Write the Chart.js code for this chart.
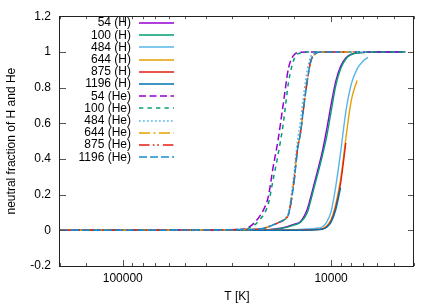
<!DOCTYPE html>
<html>
<head>
<meta charset="utf-8">
<title>neutral fraction</title>
<script src="https://cdn.jsdelivr.net/npm/chart.js@4"></script>
<style>
  html, body { margin: 0; padding: 0; background: #fff; }
  #wrap { width: 436px; height: 305px; }
</style>
</head>
<body>
<div id="wrap"><canvas id="chart" width="436" height="305"></canvas></div>
<script>
// temperature grids [K], hottest first (the axis runs hot -> cold)
const hEarlyT = [200000, 25000, 20000, 17000, 15000, 14000, 13000, 12500, 12000, 11500, 11000, 10500, 10000, 9500, 9000, 8500, 8000, 7000, 6000, 4400];
const hLateT = [200000, 20000, 15000, 13000, 12000, 11000, 10500, 10000, 9500, 9000, 8500, 8000, 7500, 7000, 6650];
const heEarlyT = [200000, 30000, 27000, 25000, 23000, 22000, 21000, 20000, 19000, 18000, 17000, 16000, 15000, 14000, 13000, 4400];
const heLateT = [200000, 24000, 21000, 19000, 18000, 17000, 16500, 16000, 15500, 15000, 14500, 14000, 13500, 13000, 12500, 12000, 11500, 11000, 10000, 9000, 8500, 7500, 6650];

// neutral hydrogen fraction
const h54 = [0, 0, 0.004, 0.015, 0.035, 0.05, 0.12, 0.19, 0.27, 0.353, 0.445, 0.565, 0.705, 0.835, 0.92, 0.966, 0.987, 0.997, 1, 1];
const h100 = [0, 0, 0.003, 0.012, 0.03, 0.045, 0.1, 0.17, 0.25, 0.33, 0.42, 0.525, 0.665, 0.81, 0.905, 0.96, 0.985, 0.996, 1, 1];
const h484 = [0, 0, 0.003, 0.007, 0.01, 0.02, 0.046, 0.105, 0.245, 0.437, 0.663, 0.819, 0.905, 0.95, 0.969];
const h644 = [0, 0, 0, 0.002, 0.004, 0.01, 0.025, 0.06, 0.145, 0.287, 0.513, 0.728, 0.84];
const h875 = [0, 0, 0, 0.002, 0.004, 0.008, 0.02, 0.052, 0.13, 0.265, 0.49];
const h1196 = [0, 0, 0, 0.001, 0.003, 0.006, 0.017, 0.045, 0.115, 0.24];

// neutral helium fraction
const he54 = [0, 0, 0.005, 0.015, 0.05, 0.08, 0.12, 0.19, 0.35, 0.5, 0.7, 0.91, 0.985, 0.998, 1, 1];
const he100 = [0, 0, 0.003, 0.01, 0.035, 0.06, 0.09, 0.15, 0.28, 0.42, 0.59, 0.83, 0.965, 0.995, 1, 1];
const he484 = [0, 0.005, 0.012, 0.03, 0.042, 0.055, 0.07, 0.1, 0.2, 0.34, 0.5, 0.62, 0.77, 0.9, 0.975, 0.995, 1, 1, 1, 1, 1, 1, 1];
const he644 = [0, 0.005, 0.012, 0.03, 0.042, 0.055, 0.066, 0.09, 0.175, 0.3, 0.455, 0.555, 0.705, 0.845, 0.95, 0.985, 0.998, 1, 1, 1, 1, 1];
const he875 = [0, 0.005, 0.012, 0.03, 0.042, 0.055, 0.065, 0.09, 0.17, 0.29, 0.45, 0.55, 0.7, 0.84, 0.95, 0.985, 0.998, 1, 1, 1, 1];
const he1196 = [0, 0.005, 0.012, 0.03, 0.042, 0.055, 0.065, 0.09, 0.17, 0.29, 0.45, 0.55, 0.7, 0.84, 0.95, 0.985, 0.998, 1, 1, 1];

const xDecades = [10000, 100000];

// pair a temperature grid with a value list (list may stop early)
function pts(tGrid, vals) {
    return vals.map((v, i) => ({ x: tGrid[i], y: v }));
}

const series = [
    { label: "54 (H)", t: hEarlyT, v: h54, color: "#9400d3", dash: [] },
    { label: "100 (H)", t: hEarlyT, v: h100, color: "#009e73", dash: [] },
    { label: "484 (H)", t: hLateT, v: h484, color: "#56b4e9", dash: [] },
    { label: "644 (H)", t: hLateT, v: h644, color: "#e69f00", dash: [] },
    { label: "875 (H)", t: hLateT, v: h875, color: "#e51e10", dash: [] },
    { label: "1196 (H)", t: hLateT, v: h1196, color: "#0072b2", dash: [] },
    { label: "54 (He)", t: heEarlyT, v: he54, color: "#9400d3", dash: [7, 3.5] },
    { label: "100 (He)", t: heEarlyT, v: he100, color: "#009e73", dash: [4.3, 4.2] },
    { label: "484 (He)", t: heLateT, v: he484, color: "#56b4e9", dash: [1.7, 2.3] },
    { label: "644 (He)", t: heLateT, v: he644, color: "#e69f00", dash: [11, 3.5, 2, 3.5] },
    { label: "875 (He)", t: heLateT, v: he875, color: "#e51e10", dash: [10.5, 3.3, 1.7, 2.7, 1.7, 4] },
    { label: "1196 (He)", t: heLateT, v: he1196, color: "#1a8ad0", dash: [8, 3] }
];

const datasets = series.map((s, i) => ({
    label: s.label,
    data: pts(s.t, s.v),
    borderColor: s.color,
    borderDash: s.dash,
    borderWidth: s.dash.length ? 1.5 : 1.4,
    pointRadius: 0,
    fill: false,
    cubicInterpolationMode: "monotone",
    order: -i
}));

// gnuplot-like frame with inward ticks, plus a key in the upper left
const framePlugin = {
    id: "frame",
    afterDatasetsDraw(chart) {
        const { ctx, chartArea: a, scales: { x, y } } = chart;
        ctx.save();
        ctx.lineWidth = 1;
        ctx.strokeStyle = "#555";
        ctx.beginPath();
        x.ticks.forEach(t => {
            const px = Math.round(x.getPixelForValue(t.value)) + 0.5;
            const len = xDecades.some(d => Math.abs(d - t.value) < 1) ? 6 : 3;
            ctx.moveTo(px, a.bottom); ctx.lineTo(px, a.bottom - len);
            ctx.moveTo(px, a.top); ctx.lineTo(px, a.top + len);
        });
        y.ticks.forEach(t => {
            const py = Math.round(y.getPixelForValue(t.value)) + 0.5;
            ctx.moveTo(a.left, py); ctx.lineTo(a.left + 6, py);
            ctx.moveTo(a.right, py); ctx.lineTo(a.right - 6, py);
        });
        ctx.stroke();
        ctx.strokeStyle = "#222";
        ctx.strokeRect(Math.round(a.left) - 0.5, Math.round(a.top) + 0.5,
            Math.round(a.right - a.left), Math.round(a.bottom - a.top));
        ctx.restore();
    },
    afterDraw(chart) {
        const { ctx } = chart;
        ctx.save();
        ctx.font = '12px "Liberation Sans", Arial, sans-serif';
        ctx.textAlign = "right";
        ctx.textBaseline = "middle";
        chart.data.datasets.forEach((ds, i) => {
            const yy = 23 + i * 12.2;
            ctx.fillStyle = "#000";
            ctx.fillText(ds.label, 131, yy);
            ctx.strokeStyle = ds.borderColor;
            ctx.lineWidth = 1.5;
            ctx.setLineDash(ds.borderDash);
            ctx.beginPath();
            ctx.moveTo(139, Math.round(yy));
            ctx.lineTo(174, Math.round(yy));
            ctx.stroke();
        });
        ctx.restore();
    }
};

Chart.defaults.color = "#000";
Chart.defaults.font.family = '"Liberation Sans", Arial, sans-serif';
Chart.defaults.font.size = 12;

new Chart(document.getElementById("chart").getContext("2d"), {
    type: "line",
    data: { datasets: datasets },
    options: {
        responsive: false,
        animation: false,
        layout: { padding: { top: 11, right: 22, left: 0, bottom: 0 } },
        plugins: {
            legend: { display: false },
            tooltip: { enabled: false }
        },
        scales: {
            x: {
                type: "logarithmic",
                reverse: true,
                min: 4000,
                max: 200000,
                grid: { display: false, drawTicks: false },
                border: { display: false },
                ticks: {
                    autoSkip: false,
                    maxRotation: 0,
                    padding: 5,
                    callback: v => xDecades.some(d => Math.abs(d - v) < 1) ? String(v) : ""
                },
                title: { display: true, text: "T [K]", padding: { top: 0, bottom: 1 } },
                afterFit: s => { s.height = 39; }
            },
            y: {
                min: -0.2,
                max: 1.2,
                grid: { display: false, drawTicks: false },
                border: { display: false },
                ticks: {
                    stepSize: 0.2,
                    padding: 9,
                    callback: v => String(Math.round(v * 10) / 10)
                },
                title: { display: true, text: "neutral fraction of H and He", padding: { top: 4, bottom: 0 } },
                afterFit: s => { s.width = 60; }
            }
        }
    },
    plugins: [framePlugin]
});
</script>
</body>
</html>
